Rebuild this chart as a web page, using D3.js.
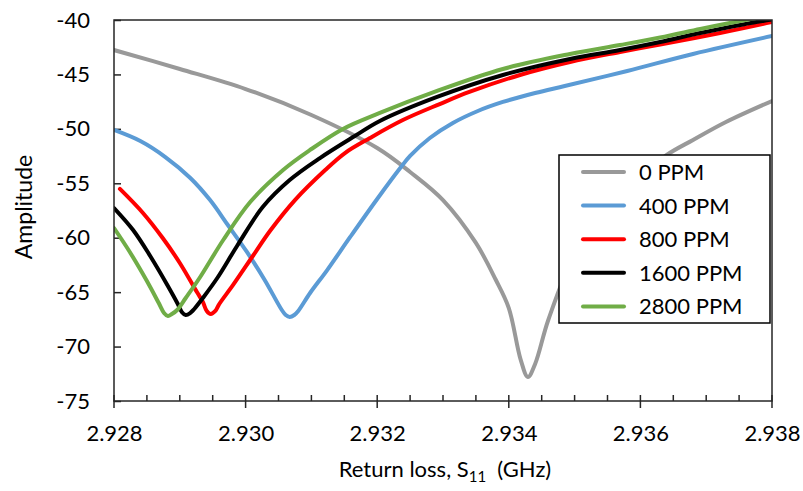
<html>
<head>
<meta charset="utf-8">
<script src='https://d3js.org/d3.v7.min.js'></script>
<style>
body { margin:0; background:#fff; }
text { font-family: Lato, "Open Sans", sans-serif; fill:#000; }
</style>
</head>
<body>
<svg id="chart" width="803" height="491"></svg>
<script>

// Series data: frequency (GHz) and amplitude (dB)
var names = ["0 PPM", "400 PPM", "800 PPM", "1600 PPM", "2800 PPM"];
var colors = ["#999999", "#5B9BD5", "#FF0000", "#000000", "#70AD47"];

var ppm0 = [
	[2.9280,-42.76],[2.9290,-44.50],[2.9300,-46.34],[2.9310,-48.73],[2.9320,-51.76],
	[2.9325,-53.96],[2.9330,-56.54],[2.9335,-60.48],[2.9338,-63.84],[2.9340,-66.46],
	[2.93418,-71.2],[2.93429,-72.8],[2.9344,-71.6],[2.9346,-67.56],[2.9350,-61.59],
	[2.9355,-57.45],[2.9360,-54.42],[2.9364,-52.40],[2.9368,-51.02],[2.9373,-49.37],[2.9380,-47.44]];
var ppm400 = [
	[2.92800,-50.10],[2.92840,-51.12],[2.92878,-52.59],[2.92916,-54.51],[2.92946,-56.54],
	[2.92973,-58.83],[2.93002,-61.31],[2.93029,-63.88],[2.93055,-66.64],[2.93061,-67.10],
	[2.93067,-67.28],[2.93074,-67.10],[2.93080,-66.73],[2.93098,-65.08],[2.93124,-62.97],
	[2.93159,-59.93],[2.93200,-56.44],[2.93235,-53.60],[2.93250,-52.49],[2.93280,-50.84],
	[2.93315,-49.46],[2.93353,-48.36],[2.93391,-47.53],[2.93440,-46.71],[2.93485,-46.06],
	[2.93580,-44.68],[2.93680,-43.12],[2.93800,-41.47]];
var ppm800 = [
	[2.92809,-55.52],[2.92844,-57.73],[2.92874,-60.03],[2.92900,-62.32],[2.92926,-64.99],
	[2.92935,-65.90],[2.92941,-66.73],[2.92947,-67.01],[2.92954,-66.73],[2.92960,-66.09],
	[2.92981,-64.34],[2.93011,-61.68],[2.93037,-59.38],[2.93075,-56.54],[2.93121,-53.78],
	[2.93151,-52.22],[2.93189,-50.84],[2.93239,-49.19],[2.93295,-47.72],[2.93340,-46.61],
	[2.93417,-45.05],[2.93493,-43.86],[2.93569,-42.94],[2.93630,-42.25],[2.93721,-41.19],[2.93800,-40.18]];
var ppm1600 = [
	[2.92800,-57.27],[2.92829,-59.29],[2.92855,-61.68],[2.92881,-64.34],[2.92897,-66.09],
	[2.92903,-66.82],[2.92909,-67.10],[2.92916,-66.91],[2.92922,-66.55],[2.92935,-65.54],
	[2.92957,-63.70],[2.92987,-60.76],[2.93026,-57.18],[2.93067,-54.70],[2.93113,-52.68],
	[2.93166,-50.66],[2.93204,-49.28],[2.93291,-47.07],[2.93391,-45.05],[2.93493,-43.58],
	[2.93569,-42.76],[2.93630,-42.02],[2.93691,-41.20],[2.93756,-40.41],[2.93800,-39.95]];
var ppm2800 = [
	[2.92800,-59.11],[2.92824,-61.31],[2.92850,-63.98],[2.92868,-66.00],[2.92876,-66.91],
	[2.92882,-67.19],[2.92888,-67.01],[2.92896,-66.64],[2.92909,-65.54],[2.92931,-63.61],
	[2.92966,-60.21],[2.93007,-56.72],[2.93057,-53.78],[2.93098,-51.94],[2.93148,-50.01],
	[2.93204,-48.54],[2.93291,-46.52],[2.93391,-44.50],[2.93493,-43.12],[2.93569,-42.30],
	[2.93630,-41.61],[2.93691,-40.83],[2.93736,-40.28],[2.93800,-39.54]];
var series = [ppm0, ppm400, ppm800, ppm1600, ppm2800];

var xTicks = [2.928, 2.930, 2.932, 2.934, 2.936, 2.938];
var yTicks = [-75, -70, -65, -60, -55, -50, -45, -40];

var svg = d3.select('#chart');

// plot area
var pLeft = 114, pRight = 772, pTop = 20, pBottom = 401;
var fontSize = "22px";

var x = d3.scaleLinear().domain([2.928, 2.938]).range([pLeft, pRight]);
var y = d3.scaleLinear().domain([-75, -40]).range([pBottom, pTop]);

svg.append("clipPath").attr("id", "clip")
	.append("rect").attr("x", pLeft).attr("y", pTop)
	.attr("width", pRight - pLeft).attr("height", pBottom - pTop);

// Y axis: ticks point inside
var yAxis = svg.append("g")
	.attr("transform", "translate(" + pLeft + ",0)")
	.call(d3.axisLeft(y).tickValues(yTicks).tickSizeInner(-7).tickSizeOuter(0).tickPadding(24)
		.tickFormat(function(d) { return String(d); }));
yAxis.select(".domain").remove();
yAxis.selectAll("line").attr("stroke", "#262626").attr("stroke-width", 1.5);
yAxis.selectAll("text").style("font-size", fontSize).style("font-family", "Lato, sans-serif");

// X axis labels
var xAxis = svg.append("g")
	.attr("transform", "translate(0," + pBottom + ")")
	.call(d3.axisBottom(x).tickValues(xTicks).tickSize(0).tickPadding(24)
		.tickFormat(d3.format(".3f")));
xAxis.select(".domain").remove();
xAxis.selectAll("text").style("font-size", fontSize).style("font-family", "Lato, sans-serif");

// X major ticks cross the axis, minor ticks point up
svg.append("g").selectAll("line")
	.data(x.ticks(20))
	.enter().append("line")
		.attr("x1", function(d) { return x(d); })
		.attr("x2", function(d) { return x(d); })
		.attr("y1", pBottom - 6)
		.attr("y2", function(d, i) { return i % 4 == 0 ? pBottom + 7 : pBottom; })
		.attr("stroke", "#262626")
		.attr("stroke-width", 1.5);

// Series lines
var line = d3.line()
	.x(function(d) { return x(d[0]); })
	.y(function(d) { return y(d[1]); })
	.curve(d3.curveCatmullRom.alpha(0.5));

svg.append("g").attr("clip-path", "url(#clip)")
	.selectAll("path")
	.data(series)
	.enter().append("path")
		.attr("d", line)
		.attr("fill", "none")
		.attr("stroke", function(d, i) { return colors[i]; })
		.attr("stroke-width", 4)
		.attr("stroke-linejoin", "round")
		.attr("stroke-linecap", "round");

// Plot border
svg.append("rect")
	.attr("x", pLeft).attr("y", pTop)
	.attr("width", pRight - pLeft).attr("height", pBottom - pTop)
	.attr("fill", "none")
	.attr("stroke", "#262626")
	.attr("stroke-width", 1.5);

// Axis titles
svg.append("text")
	.attr("transform", "rotate(-90)")
	.attr("x", -207)
	.attr("y", 32)
	.attr("text-anchor", "middle")
	.style("font-size", "23px")
	.text("Amplitude");

var xt = svg.append("text")
	.attr("x", 445)
	.attr("y", 477)
	.attr("text-anchor", "middle")
	.style("font-size", fontSize);
xt.append("tspan").text("Return loss, S");
xt.append("tspan").attr("dy", 5).style("font-size", "15px").text("11");
xt.append("tspan").attr("dy", -5).text("\u00a0\u00a0(GHz)");

// Legend
var lg = svg.append("g");
lg.append("rect")
	.attr("x", 559).attr("y", 155)
	.attr("width", 211).attr("height", 168)
	.attr("fill", "#fff")
	.attr("stroke", "#000")
	.attr("stroke-width", 1.5);

var rows = lg.selectAll("g.row")
	.data(names)
	.enter().append("g")
		.attr("class", "row")
		.attr("transform", function(d, i) { return "translate(0," + (172 + i * 33.6) + ")"; });
rows.append("line")
	.attr("x1", 583).attr("x2", 624)
	.attr("stroke", function(d, i) { return colors[i]; })
	.attr("stroke-width", 4)
	.attr("stroke-linecap", "round");
rows.append("text")
	.attr("x", 639)
	.attr("dy", "0.36em")
	.style("font-size", fontSize)
	.text(function(d) { return d; });

</script>
</body>
</html>
